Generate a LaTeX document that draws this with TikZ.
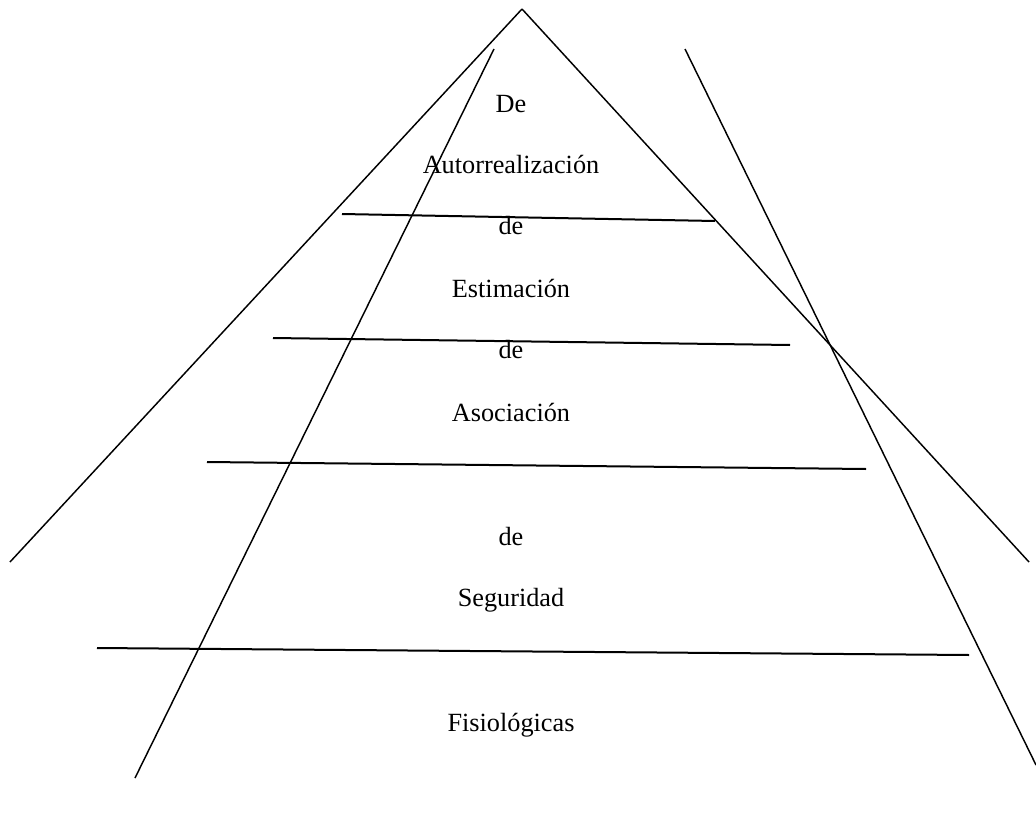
\documentclass[tikz,border=0pt]{standalone}
\usepackage{fontspec}
\setmainfont{LiberationSerif}[Extension=.ttf, UprightFont=*-Regular, BoldFont=*-Bold]
\usepackage{tikz}
\usetikzlibrary{positioning}
\pgfdeclarelayer{nodelayer}
\pgfdeclarelayer{edgelayer}
\pgfsetlayers{nodelayer,edgelayer,main}
\tikzset{
    none/.style = {inner sep=0pt},
    label/.style = {inner sep=0pt, anchor=base, font=\fontsize{19.7}{24}\selectfont},
    edge/.style = {line width=1.1pt},
    level/.style = {line width=1.5pt}
}
\begin{document}
\begin{tikzpicture}[x=0.75pt, y=-0.75pt]
  \useasboundingbox (0, 0) rectangle (1036, 828);
  \begin{pgfonlayer}{nodelayer}
    \node [style=none] (0) at (522, 9) {};
    \node [style=none] (1) at (10, 562) {};
    \node [style=none] (2) at (1029, 562) {};
    \node [style=none] (3) at (494, 49) {};
    \node [style=none] (4) at (135, 778) {};
    \node [style=none] (5) at (685, 49) {};
    \node [style=none] (6) at (1036, 765) {};
    \node [style=none] (7) at (342, 214) {};
    \node [style=none] (8) at (715, 221) {};
    \node [style=none] (9) at (273, 338) {};
    \node [style=none] (10) at (790, 345) {};
    \node [style=none] (11) at (207, 462) {};
    \node [style=none] (12) at (866, 469) {};
    \node [style=none] (13) at (97, 648) {};
    \node [style=none] (14) at (969, 655) {};
    \node [style=label] (15) at (511, 112) {De};
    \node [style=label] (16) at (511, 173) {Autorrealización};
    \node [style=label] (17) at (511, 234) {de};
    \node [style=label] (18) at (511, 297) {Estimación};
    \node [style=label] (19) at (511, 358) {de};
    \node [style=label] (20) at (511, 421) {Asociación};
    \node [style=label] (21) at (511, 545) {de};
    \node [style=label] (22) at (511, 606) {Seguridad};
    \node [style=label] (23) at (511, 731) {Fisiológicas};
  \end{pgfonlayer}
  \begin{pgfonlayer}{edgelayer}
    \draw [style=edge] (1.center) to (0.center);
    \draw [style=edge] (0.center) to (2.center);
    \draw [style=edge] (3.center) to (4.center);
    \draw [style=edge] (5.center) to (6.center);
    \draw [style=level] (7.center) to (8.center);
    \draw [style=level] (9.center) to (10.center);
    \draw [style=level] (11.center) to (12.center);
    \draw [style=level] (13.center) to (14.center);
  \end{pgfonlayer}
\end{tikzpicture}
\end{document}
